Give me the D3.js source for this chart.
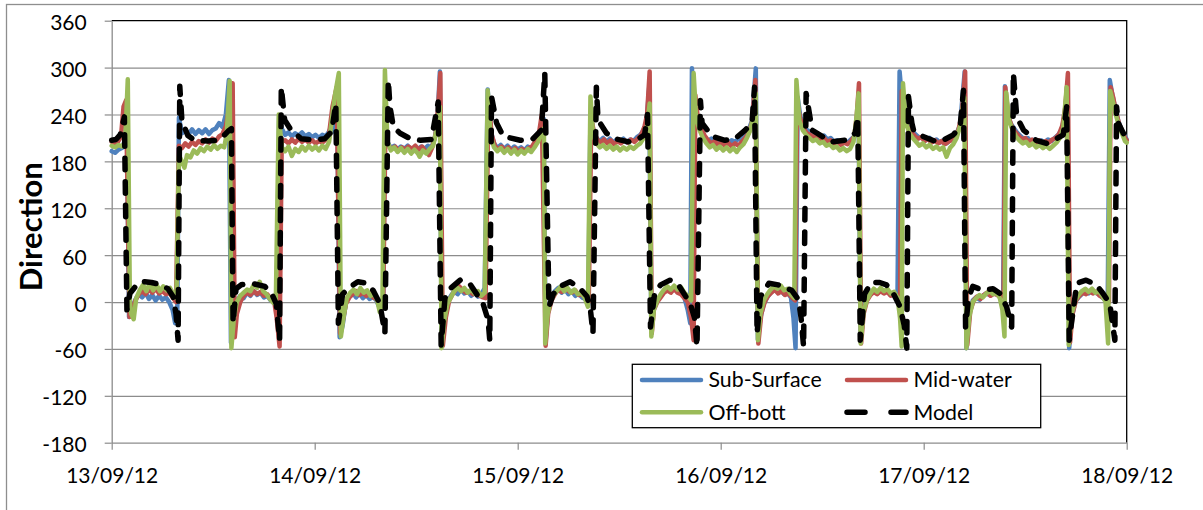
<!DOCTYPE html>
<html>
<head>
<meta charset="utf-8">
<script src="https://cdn.jsdelivr.net/npm/d3@7"></script>
<style>
  html, body { margin: 0; padding: 0; background: #fff; }
  svg { display: block; font-family: Lato, "Open Sans", sans-serif; }
</style>
</head>
<body>
<svg id="chart" width="1203" height="510"></svg>
<script>
// Current direction (degrees) by hours after 13/09/12 00:00.
const subSurface = [
  [0,193],[0.4,191],[0.8,195],[1.2,197],[1.5,205],[1.8,228],[2.05,-19],
  [2.4,-8],[2.8,3],[3.2,10],[3.6,6],[4.0,12],[4.4,4],[4.8,9],[5.2,2],[5.6,8],[6.0,3],[6.4,6],[6.8,0],[7.2,-10],[7.5,-27],[7.75,-22],
  [7.95,236],[8.3,216],[8.7,220],[9.1,215],[9.5,221],[9.9,215],[10.3,220],[10.7,216],[11.1,221],[11.5,215],[11.9,220],[12.3,222],[12.7,229],[13.1,224],[13.5,240],[13.85,284],
  [14.1,-52],[14.4,-15],[14.8,2],[15.2,8],[15.6,5],[16.0,12],[16.4,8],[16.8,14],[17.2,9],[17.6,12],[18.0,6],[18.4,8],[18.8,2],[19.2,4],[19.5,0],
  [19.8,236],[20.1,222],[20.5,214],[20.9,217],[21.3,212],[21.7,216],[22.1,213],[22.5,217],[22.9,212],[23.3,215],[23.7,211],[24.1,214],[24.5,210],[24.9,214],[25.3,212],[25.7,218],[26.0,226],[26.3,218],[26.65,265],
  [26.95,-45],[27.3,-30],[27.7,0],[28.1,8],[28.5,12],[28.9,6],[29.3,11],[29.7,5],[30.1,9],[30.5,4],[30.9,7],[31.3,2],[31.7,-8],[32.1,-5],
  [32.3,250],[32.6,205],[33.0,197],[33.4,200],[33.8,195],[34.2,199],[34.6,196],[35.0,200],[35.4,194],[35.8,198],[36.2,195],[36.6,199],[37.0,196],[37.4,200],[37.8,197],[38.2,210],[38.5,230],[38.8,295],
  [39.0,-52],[39.3,-20],[39.7,0],[40.1,8],[40.5,14],[40.9,10],[41.3,16],[41.7,11],[42.1,14],[42.5,8],[42.9,12],[43.3,7],[43.7,10],[44.1,18],
  [44.45,272],[44.8,220],[45.2,203],[45.6,197],[46.0,201],[46.4,196],[46.8,200],[47.2,195],[47.6,199],[48.0,195],[48.4,198],[48.8,194],[49.2,199],[49.6,196],[50.0,201],[50.4,212],[50.8,225],[51.05,235],
  [51.3,-50],[51.6,-10],[52.0,5],[52.4,14],[52.8,18],[53.2,12],[53.6,16],[54.0,10],[54.4,14],[54.8,8],[55.2,11],[55.6,6],[56.0,4],[56.35,-3],
  [56.6,240],[56.9,222],[57.3,210],[57.7,206],[58.1,210],[58.5,205],[58.9,209],[59.3,204],[59.7,208],[60.1,205],[60.5,209],[60.9,204],[61.3,208],[61.7,206],[62.1,211],[62.5,214],[62.9,220],[63.25,232],[63.55,275],
  [63.8,-35],[64.1,-5],[64.5,2],[64.9,8],[65.3,14],[65.7,18],[66.1,15],[66.5,19],[66.9,14],[67.3,12],[67.7,6],[68.1,-10],[68.4,-27],
  [68.6,299],[68.9,240],[69.3,225],[69.7,218],[70.1,211],[70.5,206],[70.9,209],[71.3,203],[71.7,207],[72.1,202],[72.5,206],[72.9,203],[73.3,207],[73.7,205],[74.1,209],[74.5,207],[74.9,214],[75.3,220],[75.7,232],[76.15,299],
  [76.4,-48],[76.7,-20],[77.1,-2],[77.5,6],[77.9,12],[78.3,16],[78.7,13],[79.1,15],[79.5,10],[79.9,12],[80.3,6],[80.6,-20],[80.85,-59],
  [81.1,262],[81.4,238],[81.8,226],[82.2,220],[82.6,218],[83.0,214],[83.4,216],[83.8,211],[84.2,213],[84.6,208],[85.0,210],[85.4,205],[85.8,207],[86.2,203],[86.6,206],[87.0,204],[87.4,208],[87.8,212],[88.1,225],[88.3,250],
  [88.55,-50],[88.9,-10],[89.3,4],[89.7,10],[90.1,14],[90.5,11],[90.9,16],[91.3,12],[91.7,14],[92.1,9],[92.5,11],[92.9,5],
  [93.15,295],[93.5,250],[93.9,228],[94.3,222],[94.7,218],[95.1,214],[95.5,210],[95.9,212],[96.3,207],[96.7,210],[97.1,206],[97.5,208],[97.9,204],[98.3,207],[98.7,203],[99.1,207],[99.5,210],[99.9,216],[100.3,226],[100.85,295],
  [101.05,-59],[101.4,-15],[101.8,2],[102.2,6],[102.6,3],[103.0,8],[103.4,11],[103.8,9],[104.2,13],[104.6,10],[105.0,8],[105.4,12],
  [105.6,276],[105.9,240],[106.3,228],[106.7,222],[107.1,216],[107.5,212],[107.9,208],[108.3,210],[108.7,205],[109.1,208],[109.5,203],[109.9,207],[110.3,204],[110.7,208],[111.1,206],[111.5,210],[111.9,214],[112.3,220],[112.7,240],[113.0,280],
  [113.2,-59],[113.5,-20],[113.9,0],[114.3,6],[114.7,10],[115.1,14],[115.5,11],[115.9,15],[116.3,12],[116.7,10],[117.1,6],[117.5,2],[117.75,-5],
  [118.0,284],[118.3,265],[118.6,250],[119.0,232],[119.4,220],[119.8,212],[120.0,208]
];

const midWater = [
  [0,205],[0.4,203],[0.8,206],[1.1,212],[1.4,250],[1.7,258],[2.1,-19],
  [2.4,-10],[2.8,2],[3.2,10],[3.6,14],[4.0,10],[4.4,16],[4.8,12],[5.2,17],[5.6,11],[6.0,14],[6.4,10],[6.8,12],[7.2,6],[7.6,0],
  [7.95,200],[8.3,197],[8.7,203],[9.1,199],[9.5,205],[9.9,201],[10.3,206],[10.7,203],[11.1,208],[11.5,204],[11.9,209],[12.3,206],[12.7,212],[13.1,215],[13.5,225],[13.9,250],[14.3,280],
  [14.55,-45],[14.8,-15],[15.2,0],[15.6,8],[16.0,12],[16.4,9],[16.8,14],[17.2,10],[17.6,13],[18.0,8],[18.4,10],[18.8,4],[19.2,2],[19.5,-20],[19.85,-57],
  [20.1,205],[20.5,207],[20.9,203],[21.3,208],[21.7,204],[22.1,209],[22.5,205],[22.9,208],[23.3,204],[23.7,207],[24.1,203],[24.5,206],[24.9,204],[25.3,208],[25.7,215],[26.1,250],[26.6,275],
  [27.0,-40],[27.3,-25],[27.7,-2],[28.1,6],[28.5,10],[28.9,14],[29.3,9],[29.7,12],[30.1,8],[30.5,11],[30.9,6],[31.3,4],[31.7,-6],[32.1,-2],
  [32.35,215],[32.7,200],[33.1,196],[33.5,199],[33.9,194],[34.3,198],[34.7,195],[35.1,199],[35.5,196],[35.9,200],[36.3,195],[36.7,199],[37.1,193],[37.5,188],[37.9,198],[38.3,215],[38.6,250],[38.85,293],
  [39.15,-56],[39.5,-20],[39.9,2],[40.3,10],[40.7,16],[41.1,20],[41.5,15],[41.9,12],[42.3,14],[42.7,10],[43.1,12],[43.5,8],[43.9,6],[44.2,5],
  [44.55,262],[44.9,215],[45.3,200],[45.7,195],[46.1,199],[46.5,194],[46.9,198],[47.3,193],[47.7,197],[48.1,192],[48.5,196],[48.9,193],[49.3,197],[49.7,199],[50.1,206],[50.5,215],[50.85,240],
  [51.3,-56],[51.6,-15],[52.0,2],[52.4,10],[52.8,16],[53.2,13],[53.6,18],[54.0,14],[54.4,12],[54.8,15],[55.2,9],[55.6,10],[56.0,5],[56.4,0],
  [56.7,235],[57.0,218],[57.4,208],[57.8,204],[58.2,208],[58.6,203],[59.0,207],[59.4,202],[59.8,206],[60.2,203],[60.6,207],[61.0,204],[61.4,208],[61.8,205],[62.2,209],[62.6,214],[63.0,225],[63.3,240],[63.6,295],
  [63.85,-40],[64.1,-10],[64.5,0],[64.9,6],[65.3,12],[65.7,15],[66.1,12],[66.5,17],[66.9,12],[67.3,10],[67.7,5],[68.1,0],[68.5,-20],[68.8,-49],
  [69.0,265],[69.3,235],[69.7,222],[70.1,213],[70.5,207],[70.9,203],[71.3,206],[71.7,201],[72.1,205],[72.5,200],[72.9,204],[73.3,199],[73.7,203],[74.1,200],[74.5,205],[74.9,210],[75.3,216],[75.7,230],[76.1,284],
  [76.45,-53],[76.8,-15],[77.2,0],[77.6,8],[78.0,12],[78.4,16],[78.8,11],[79.2,14],[79.6,9],[80.0,11],[80.4,6],[80.8,2],
  [81.05,255],[81.4,235],[81.8,222],[82.2,216],[82.6,214],[83.0,211],[83.4,213],[83.8,208],[84.2,210],[84.6,205],[85.0,207],[85.4,203],[85.8,205],[86.2,201],[86.6,204],[87.0,202],[87.4,206],[87.8,212],[88.1,240],[88.35,280],
  [88.6,-53],[88.9,-15],[89.3,2],[89.7,9],[90.1,13],[90.5,10],[90.9,14],[91.3,11],[91.7,13],[92.1,8],[92.5,10],[92.9,4],[93.2,0],
  [93.4,270],[93.7,240],[94.1,224],[94.5,218],[94.9,213],[95.3,209],[95.7,211],[96.1,206],[96.5,209],[96.9,204],[97.3,207],[97.7,203],[98.1,206],[98.5,202],[98.9,205],[99.3,207],[99.7,213],[100.1,220],[100.5,240],[100.9,295],
  [101.15,-55],[101.5,-12],[101.9,2],[102.3,7],[102.7,4],[103.1,9],[103.5,12],[103.9,8],[104.3,11],[104.7,9],[105.1,6],[105.45,10],
  [105.65,275],[106.0,238],[106.4,225],[106.8,218],[107.2,213],[107.6,208],[108.0,210],[108.4,205],[108.8,208],[109.2,203],[109.6,207],[110.0,202],[110.4,206],[110.8,204],[111.2,208],[111.6,210],[112.0,215],[112.4,226],[112.75,250],[113.05,293],
  [113.3,-52],[113.6,-15],[114.0,2],[114.4,8],[114.8,12],[115.2,10],[115.6,14],[116.0,11],[116.4,13],[116.8,8],[117.2,6],[117.6,3],[117.9,0],
  [118.1,275],[118.4,262],[118.7,245],[119.1,228],[119.5,218],[119.8,210],[120.0,207]
];

const offBott = [
  [0,200],[0.4,198],[0.8,201],[1.2,199],[1.6,205],[1.9,285],[2.15,0],[2.3,-15],[2.6,-22],
  [2.9,5],[3.3,15],[3.7,22],[4.1,14],[4.5,24],[4.9,15],[5.3,22],[5.7,14],[6.1,20],[6.5,15],[6.9,18],[7.3,10],[7.65,5],
  [7.95,188],[8.3,180],[8.6,172],[8.9,188],[9.3,185],[9.7,194],[10.1,190],[10.5,197],[10.9,193],[11.3,199],[11.7,195],[12.1,201],[12.5,196],[12.9,200],[13.3,198],[13.6,215],[13.95,283],
  [14.15,-59],[14.45,-20],[14.8,0],[15.2,8],[15.6,12],[16.0,16],[16.4,14],[16.8,22],[17.2,18],[17.5,26],[17.9,14],[18.3,10],[18.7,4],[19.1,-1],[19.4,-2],
  [19.75,240],[20.1,198],[20.5,193],[20.9,199],[21.3,187],[21.7,196],[22.1,192],[22.5,199],[22.9,194],[23.3,200],[23.7,195],[24.1,199],[24.5,194],[24.9,200],[25.3,196],[25.7,205],[26.1,240],[26.4,265],[26.85,293],
  [27.1,-44],[27.4,-20],[27.8,5],[28.2,12],[28.6,16],[29.0,10],[29.4,18],[29.8,12],[30.2,15],[30.6,8],[31.0,11],[31.4,2],[31.7,-13],[32.0,-5],
  [32.3,297],[32.6,205],[33.0,194],[33.4,198],[33.8,192],[34.2,197],[34.6,191],[35.0,196],[35.4,190],[35.8,195],[36.2,190],[36.4,186],[36.8,194],[37.2,190],[37.6,196],[38.0,200],[38.4,220],[38.8,250],
  [39.0,-59],[39.3,-25],[39.7,-2],[40.1,6],[40.5,14],[40.9,18],[41.3,14],[41.7,18],[42.1,12],[42.5,16],[42.9,11],[43.3,14],[43.7,8],[44.1,12],
  [44.45,271],[44.8,212],[45.2,198],[45.6,193],[46.0,197],[46.4,191],[46.8,196],[47.2,190],[47.6,195],[48.0,189],[48.4,194],[48.8,190],[49.2,196],[49.6,192],[50.0,198],[50.4,205],[50.8,216],[51.1,222],
  [51.25,-53],[51.55,-15],[51.9,2],[52.3,10],[52.7,15],[53.1,20],[53.5,14],[53.9,18],[54.3,12],[54.7,16],[55.1,10],[55.5,12],[55.9,6],[56.3,-6],
  [56.6,263],[56.9,215],[57.3,203],[57.7,198],[58.1,201],[58.5,196],[58.9,200],[59.3,195],[59.7,199],[60.1,194],[60.5,198],[60.9,195],[61.3,199],[61.7,196],[62.1,200],[62.5,203],[62.9,210],[63.3,225],[63.6,254],
  [63.8,-44],[64.1,-10],[64.5,2],[64.9,10],[65.3,16],[65.7,20],[66.1,16],[66.5,21],[66.9,16],[67.3,19],[67.7,12],[68.1,8],[68.5,2],
  [68.8,293],[69.1,235],[69.5,220],[69.9,210],[70.3,203],[70.7,198],[71.1,201],[71.5,195],[71.9,199],[72.3,194],[72.7,198],[73.1,193],[73.5,197],[73.9,192],[74.3,198],[74.7,202],[75.1,210],[75.5,220],[75.9,240],[76.15,267],
  [76.4,-49],[76.7,-15],[77.1,2],[77.5,10],[77.9,16],[78.3,20],[78.7,17],[79.1,21],[79.5,15],[79.9,17],[80.3,10],[80.7,5],
  [80.95,284],[81.3,232],[81.7,220],[82.1,214],[82.5,210],[82.9,206],[83.3,208],[83.7,203],[84.1,205],[84.5,200],[84.9,202],[85.3,197],[85.7,199],[86.1,194],[86.5,197],[86.9,193],[87.3,196],[87.7,205],[88.0,230],[88.3,267],
  [88.55,-53],[88.9,-12],[89.3,3],[89.7,11],[90.1,17],[90.5,13],[90.9,18],[91.3,14],[91.7,17],[92.1,11],[92.5,13],[92.9,6],[93.2,-20],[93.4,-57],
  [93.55,280],[93.9,230],[94.3,216],[94.7,210],[95.1,205],[95.5,200],[95.9,203],[96.3,198],[96.7,201],[97.1,196],[97.5,199],[97.9,195],[98.3,198],[98.7,186],[99.1,197],[99.5,202],[99.9,210],[100.3,225],[100.8,262],
  [101.05,-59],[101.4,-18],[101.8,0],[102.2,5],[102.6,9],[103.0,6],[103.4,11],[103.8,14],[104.2,10],[104.6,12],[105.0,5],[105.3,-10],[105.55,-44],
  [105.75,268],[106.1,232],[106.5,220],[106.9,212],[107.3,207],[107.7,203],[108.1,205],[108.5,200],[108.9,203],[109.3,198],[109.7,201],[110.1,197],[110.5,200],[110.9,196],[111.3,200],[111.7,204],[112.1,210],[112.5,222],[112.9,275],
  [113.15,-55],[113.5,-15],[113.9,2],[114.3,9],[114.7,14],[115.1,17],[115.5,13],[115.9,17],[116.3,12],[116.7,14],[117.1,8],[117.5,0],[117.8,-53],
  [118.05,270],[118.4,255],[118.7,240],[119.1,225],[119.5,214],[119.8,206],[120.0,204]
];

const model = [
  [0,207],[0.5,208],[1.0,214],[1.5,237],[1.8,-10],[2.15,11],[2.6,17],[3.1,24],[3.9,26],[4.7,25],[5.9,22],[6.65,17],[7.25,7],[7.6,-15],[7.85,-49],
  [8.05,276],[8.3,232],[9.0,213],[9.8,207],[11.4,206],[12.6,207],[13.35,214],[13.8,219],[14.15,222],[14.35,-27],[14.7,17],[15.3,22],[16.5,24],[18.1,20],[18.9,11],[19.45,-2],[19.85,-49],
  [20.05,275],[20.45,233],[21.2,220],[22.4,209],[24.0,207],[25.2,209],[26.0,218],[26.5,254],[26.8,-27],[27.3,10],[27.9,17],[29.1,26],[30.1,24],[30.9,15],[31.7,-2],[32.3,-40],
  [32.7,284],[32.9,250],[33.3,224],[34.1,216],[35.3,209],[36.5,207],[37.8,208],[38.6,256],[38.95,-55],[39.4,5],[40.0,17],[41.2,28],[42.3,24],[43.9,-2],[44.5,-23],[44.7,-49],
  [44.9,263],[45.5,229],[46.3,212],[48.3,207],[49.8,209],[50.8,220],[51.2,293],[51.7,-6],[52.2,10],[53.0,20],[54.2,26],[55.4,17],[56.2,7],[56.6,-10],[56.9,-40],
  [57.3,275],[57.5,233],[58.5,216],[59.5,209],[61.1,205],[62.3,209],[63.0,214],[63.35,240],[63.7,-32],[64.2,12],[64.9,22],[66.0,28],[67.0,22],[68.4,-2],[68.9,-20],[69.2,-57],
  [69.6,258],[69.8,229],[71.0,212],[72.5,207],[73.7,209],[74.9,220],[75.7,229],[76.0,275],[76.3,-40],[76.7,7],[77.7,24],[78.8,22],[80.4,15],[81.2,3],[81.5,-20],[81.8,-57],
  [82.1,267],[82.8,220],[84.0,212],[85.1,205],[86.7,207],[87.9,216],[88.2,237],[88.5,-49],[89.0,10],[89.8,25],[90.8,25],[91.6,22],[92.4,11],[93.2,-6],[93.7,-30],[94.0,-59],
  [94.2,263],[94.6,229],[94.8,220],[95.9,212],[97.5,205],[98.3,207],[99.5,214],[100.3,224],[100.7,271],[100.95,-32],[101.3,5],[101.8,20],[103.0,15],[104.2,17],[105.0,11],[105.8,-6],[106.4,-32],
  [106.6,293],[107.0,237],[107.8,220],[109.3,207],[110.5,203],[111.7,209],[112.5,214],[112.9,250],[113.2,-49],[114.1,24],[115.2,28],[116.4,22],[117.2,11],[118.0,-2],[118.6,-49],
  [118.8,250],[119.0,229],[119.6,216],[120.0,210]
];

const yTicks = [-180, -120, -60, 0, 60, 120, 180, 240, 300, 360];
const dayLabels = ["13/09/12", "14/09/12", "15/09/12", "16/09/12", "17/09/12", "18/09/12"];
const seriesNames = ["Sub-Surface", "Mid-water", "Off-bott", "Model"];
const seriesColors = ["#4F81BD", "#C0504D", "#9BBB59", "#000000"];
const yTitle = "Direction";

// ---- layout ----
const plot = { left: 111.7, right: 1126.7, top: 20.7, bottom: 442.7 };
const gridColor = "#8c8c8c";

const svg = d3.select("#chart");
const parseDay = d3.utcParse("%d/%m/%y");
const days = dayLabels.map(parseDay);
const start = days[0].getTime();
const toDate = h => new Date(start + h * 3600e3);

const x = d3.scaleUtc().domain([days[0], days[days.length - 1]]).range([plot.left, plot.right]);
const y = d3.scaleLinear().domain([yTicks[0], yTicks[yTicks.length - 1]]).range([plot.bottom, plot.top]);

// chart-area frame
svg.append("rect").attr("x", 6.5).attr("y", 4.5).attr("width", 1400).attr("height", 700)
  .attr("fill", "#fff").attr("stroke", "#8e8e8e").attr("stroke-width", 1.3);

// horizontal gridlines
svg.append("g")
  .attr("transform", `translate(${plot.left},0)`)
  .call(d3.axisLeft(y).tickValues(yTicks.slice(1, -1)).tickSize(-(plot.right - plot.left)).tickFormat(""))
  .call(g => g.select(".domain").remove())
  .call(g => g.selectAll("line").attr("stroke", gridColor).attr("stroke-width", 1.2));

// plot-area border (top and right)
svg.append("path")
  .attr("d", `M${plot.left},${plot.top}H${plot.right}V${plot.bottom}`)
  .attr("fill", "none").attr("stroke", "#000").attr("stroke-width", 1.3);

// y axis (plain hyphen for negatives)
const yAxis = svg.append("g")
  .attr("transform", `translate(${plot.left},0)`)
  .call(d3.axisLeft(y).tickValues(yTicks).tickFormat(d => String(d))
    .tickSize(7).tickSizeOuter(0).tickPadding(18));
yAxis.select(".domain").attr("stroke", gridColor).attr("stroke-width", 1.3);
yAxis.selectAll(".tick line").attr("stroke", gridColor).attr("stroke-width", 1.2);
yAxis.selectAll(".tick text").attr("font-size", 21).attr("font-family", "Lato").attr("fill", "#000").attr("dy", "0.43em");

// x axis
const xAxis = svg.append("g")
  .attr("transform", `translate(0,${plot.bottom})`)
  .call(d3.axisBottom(x).tickValues(days).tickFormat((d, i) => dayLabels[i]).tickSize(7).tickSizeOuter(0).tickPadding(18));
xAxis.select(".domain").attr("stroke", gridColor).attr("stroke-width", 1.3);
xAxis.selectAll(".tick line").attr("stroke", gridColor).attr("stroke-width", 1.2);
xAxis.selectAll(".tick text").attr("font-size", 21).attr("font-family", "Lato").attr("fill", "#000");

// y title
svg.append("text")
  .attr("transform", `translate(41.5,226.7) rotate(-90)`)
  .attr("text-anchor", "middle")
  .attr("font-family", "Lato").attr("font-weight", "bold").attr("font-size", 31)
  .text(yTitle);

// series
const line = d3.line().x(d => x(toDate(d[0]))).y(d => y(d[1]));
const measured = [subSurface, midWater, offBott];
measured.forEach((data, i) => {
  svg.append("path").datum(data)
    .attr("d", line)
    .attr("fill", "none").attr("stroke", seriesColors[i])
    .attr("stroke-width", 4.5).attr("stroke-linejoin", "round").attr("stroke-linecap", "round");
});
svg.append("path").datum(model)
  .attr("d", line)
  .attr("fill", "none").attr("stroke", seriesColors[3])
  .attr("stroke-width", 5.5).attr("stroke-linejoin", "round").attr("stroke-linecap", "round")
  .attr("stroke-dasharray", "11.5,12");

// legend
const lg = svg.append("g");
lg.append("rect").attr("x", 632.3).attr("y", 364.3).attr("width", 408.4).attr("height", 63.4)
  .attr("fill", "#fff").attr("stroke", "#000").attr("stroke-width", 1.3);
const entries = [
  { x: 642, yy: 380, tx: 708.5 },
  { x: 847, yy: 380, tx: 913.5 },
  { x: 642, yy: 412.3, tx: 708.5 },
  { x: 847, yy: 412.3, tx: 913.5 }
];
entries.forEach((e, i) => {
  const ln = lg.append("line").attr("x1", e.x).attr("x2", e.x + 59).attr("y1", e.yy).attr("y2", e.yy)
    .attr("stroke", seriesColors[i]).attr("stroke-linecap", "round");
  if (i === 3) {
    ln.attr("stroke-width", 5.5).attr("stroke-dasharray", "18,26");
  } else {
    ln.attr("stroke-width", 4.5);
  }
  lg.append("text").attr("x", e.tx).attr("y", e.yy + 7.2)
    .attr("font-family", "Lato").attr("font-size", 21.3).attr("fill", "#000")
    .text(seriesNames[i]);
});
</script>
</body>
</html>
